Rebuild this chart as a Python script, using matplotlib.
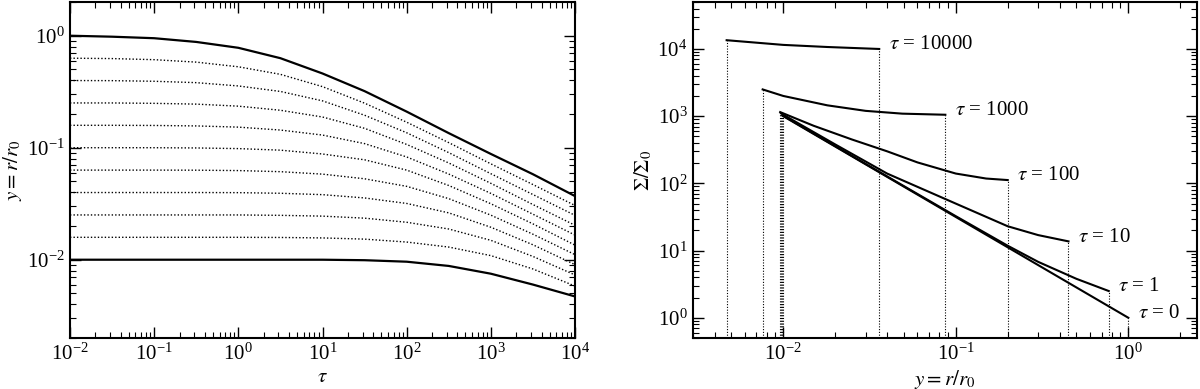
import matplotlib
matplotlib.use('Agg')
import matplotlib.pyplot as plt
from matplotlib.ticker import LogLocator

plt.rcParams['font.family'] = ['Liberation Serif', 'DejaVu Serif']
plt.rcParams['mathtext.fontset'] = 'stix'
plt.rcParams['font.size'] = 14

# left panel: radius of fluid rings vs time
tau = [0.01, 0.0316, 0.1, 0.316, 1, 3.16, 10, 31.6, 100, 316, 1000, 3160, 10000]
y_00 = [1.0, 0.98, 0.95, 0.88, 0.78, 0.63, 0.46, 0.32, 0.21, 0.135, 0.088, 0.058, 0.037]
y_01 = [0.630, 0.625, 0.611, 0.581, 0.528, 0.452, 0.351, 0.250, 0.169, 0.111, 0.0718, 0.0469, 0.0305]
y_02 = [0.398, 0.397, 0.392, 0.381, 0.356, 0.318, 0.262, 0.195, 0.136, 0.0904, 0.0586, 0.0382, 0.0249]
y_03 = [0.251, 0.251, 0.249, 0.245, 0.235, 0.216, 0.188, 0.149, 0.107, 0.0731, 0.0481, 0.0311, 0.0203]
y_04 = [0.1585, 0.1585, 0.158, 0.1565, 0.1527, 0.1438, 0.1297, 0.1088, 0.0827, 0.0582, 0.0391, 0.0255, 0.0166]
y_05 = [0.1, 0.1, 0.1, 0.0995, 0.0982, 0.0951, 0.0879, 0.078, 0.0631, 0.046, 0.0316, 0.0209, 0.0135]
y_06 = [0.0631, 0.0631, 0.0631, 0.063, 0.0625, 0.0611, 0.0581, 0.0528, 0.0452, 0.0351, 0.025, 0.0169, 0.0111]
y_07 = [0.0398, 0.0398, 0.0398, 0.0398, 0.0397, 0.0392, 0.0381, 0.0356, 0.0318, 0.0262, 0.0195, 0.0136, 0.00904]
y_08 = [0.0251, 0.0251, 0.0251, 0.0251, 0.0251, 0.0249, 0.0245, 0.0235, 0.0216, 0.0188, 0.0149, 0.0107, 0.00731]
y_09 = [0.01585, 0.01585, 0.01585, 0.01585, 0.01585, 0.0158, 0.01565, 0.01527, 0.01438, 0.01297, 0.01088, 0.00827, 0.00582]
y_10 = [0.01, 0.01, 0.01, 0.01, 0.01, 0.01, 0.01, 0.0099, 0.0096, 0.0088, 0.0075, 0.006, 0.0047]
tracks = [y_00, y_01, y_02, y_03, y_04, y_05, y_06, y_07, y_08, y_09, y_10]

# right panel: surface density profiles
prof_labels = ['$\\tau$ = 0', '$\\tau$ = 1', '$\\tau$ = 10', '$\\tau$ = 100',
               '$\\tau$ = 1000', '$\\tau$ = 10000']
r_t0 = [0.01, 1.0]
s_t0 = [1000, 1.0]
r_t1 = [0.0099, 0.03, 0.1, 0.2, 0.3, 0.5, 0.77]
s_t1 = [1030, 195, 32.5, 11.8, 6.8, 3.8, 2.5]
r_t10 = [0.0097, 0.02, 0.04, 0.1, 0.2, 0.3, 0.45]
s_t10 = [1100, 380, 140, 50, 23, 17, 13.7]
r_t100 = [0.0096, 0.015, 0.025, 0.04, 0.06, 0.1, 0.15, 0.2]
s_t100 = [1150, 720, 450, 300, 205, 140, 118, 112]
r_t1000 = [0.0076, 0.01, 0.018, 0.03, 0.049, 0.087]
s_t1000 = [2500, 2000, 1450, 1200, 1090, 1050]
r_t10000 = [0.0047, 0.01, 0.018, 0.036]
s_t10000 = [13500, 11500, 10700, 10000]
profiles = [(r_t0, s_t0), (r_t1, s_t1), (r_t10, s_t10), (r_t100, s_t100),
            (r_t1000, s_t1000), (r_t10000, s_t10000)]


def style(ax):
    ax.set_xscale('log')
    ax.set_yscale('log')
    ax.tick_params(which='both', direction='in', top=True, right=True)
    ax.tick_params(which='major', length=8, width=1, labelsize=15, pad=4)
    ax.tick_params(which='minor', length=4, width=0.8)
    for sp in ax.spines.values():
        sp.set_linewidth(1.5)


fig = plt.figure(figsize=(12, 3.89), dpi=100)
ax1 = fig.add_axes([70/1200, 51/389, 505/1200, 336/389])
ax2 = fig.add_axes([693/1200, 51/389, 504/1200, 336/389])

style(ax1)
for i, yy in enumerate(tracks):
    if i == 0 or i == len(tracks) - 1:
        ax1.plot(tau, yy, color='black', lw=1.6)
    else:
        ax1.plot(tau, yy, color='black', lw=1.0, ls=(0, (1, 1.5)))
ax1.set_xlim(1e-2, 1e4)
ax1.set_ylim(0.002, 2)
ax1.xaxis.set_major_locator(LogLocator(base=10, numticks=10))
ax1.set_xlabel('$\\tau$', fontsize=15, labelpad=2)
ax1.set_ylabel('$y = r/r_0$', fontsize=15, labelpad=2)

style(ax2)
ymin2 = 0.5
for (rr, ss), lab in zip(profiles, prof_labels):
    ax2.plot(rr, ss, color='black', lw=1.5)
    ax2.plot([rr[0], rr[0]], [ymin2, ss[0]], color='black', lw=0.8, ls=(0, (1, 1.5)))
    ax2.plot([rr[-1], rr[-1]], [ymin2, ss[-1]], color='black', lw=0.8, ls=(0, (1, 1.5)))
    ax2.annotate(lab, (rr[-1], ss[-1]), xytext=(7, 3), textcoords='offset points',
                 va='center', ha='left', fontsize=15)
ax2.set_xlim(0.003, 2.5)
ax2.set_ylim(ymin2, 5e4)
ax2.set_xlabel('$y = r/r_0$', fontsize=15, labelpad=2)
ax2.set_ylabel('$\\Sigma/\\Sigma_0$', fontsize=15, labelpad=2)

fig.savefig('out.png', dpi=100)
